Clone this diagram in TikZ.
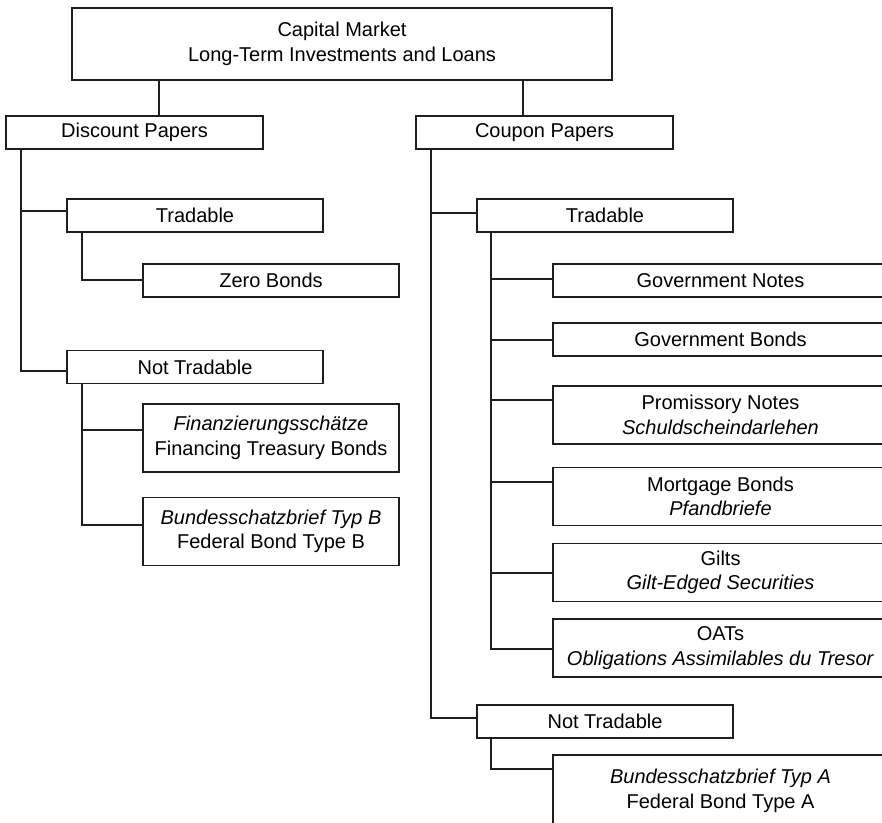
\documentclass[tikz,border=0pt]{standalone}
\usepackage{fontspec}
\setmainfont{Liberation Sans}
\usetikzlibrary{calc}
\definecolor{boxline}{RGB}{30,30,30}

\begin{document}
\begin{tikzpicture}[
  x=1pt, y=-1pt,
  font=\fontsize{20}{24.5}\selectfont,
  catbox/.style={draw=boxline, line width=1.8pt, fill=white,
                 inner sep=0pt, minimum width=256pt, minimum height=33pt,
                 align=center},
  widebox/.style={catbox, minimum width=335pt},
  link/.style={draw=boxline, line width=1.8pt},
]
\useasboundingbox (0,0) rectangle (882,822);
\clip (0,0) rectangle (882,822);

% =================================================================
%  ROOT AND FIRST LEVEL
% =================================================================
\node[catbox, minimum width=540pt, minimum height=72pt] (capital) at (342, 44)
  {Capital Market\\
   Long-Term Investments and Loans};

\node[catbox, minimum width=257pt] (disc) at (134.5, 132.5) {Discount Papers};
\node[catbox, minimum width=257pt] (coup) at (544.5, 132.5) {Coupon Papers};

% =================================================================
%  DISCOUNT PAPERS BRANCH
% =================================================================
\node[catbox] (ltrad) at (195, 215.5) {Tradable};
\node[catbox] (zero) at (271, 280.5) {Zero Bonds};

\node[catbox] (lnot) at (195, 367) {Not Tradable};
\node[catbox, minimum height=68pt] (finanz) at (271, 438)
  {\textit{Finanzierungsschätze}\\
   Financing Treasury Bonds};
\node[catbox, minimum height=68pt] (bsbB) at (271, 531.5)
  {\textit{Bundesschatzbrief Typ B}\\
   Federal Bond Type B};

% =================================================================
%  COUPON PAPERS BRANCH
% =================================================================
\node[catbox] (rtrad) at (605, 215.5) {Tradable};
\node[widebox] (gnotes) at (720.5, 280.5) {Government Notes};
\node[widebox] (gbonds) at (720.5, 339.5) {Government Bonds};
\node[widebox, minimum height=58pt] (pnotes) at (720.5, 415)
  {Promissory Notes\\
   \textit{Schuldscheindarlehen}};
\node[widebox, minimum height=58pt] (mbonds) at (720.5, 496.5)
  {Mortgage Bonds\\
   \textit{Pfandbriefe}};
\node[widebox, minimum height=58pt] (gilts) at (720.5, 572.5)
  {Gilts\\
   \textit{Gilt-Edged Securities}};
\node[widebox, minimum height=58pt] (oats) at (720.5, 648)
  {OATs\\
   \textit{Obligations Assimilables du Tresor}};

\node[catbox] (rnot) at (605, 721.5) {Not Tradable};
\node[widebox, minimum height=72pt] (bsbA) at (720.5, 791)
  {\textit{Bundesschatzbrief Typ A}\\
   Federal Bond Type A};

% =================================================================
%  CONNECTORS
% =================================================================
\coordinate (capL) at ($(capital.south)+(-183,0)$);
\coordinate (capR) at ($(capital.south)+(181,0)$);
\draw[link] (capL) -- (capL |- disc.north);
\draw[link] (capR) -- (capR |- coup.north);

\draw[link] ($(disc.south west)+(16,0)$) |- ($(ltrad.west)+(0,-4.5)$);
\draw[link] ($(disc.south west)+(16,0)$) |- ($(lnot.west)+(0,4)$);
\draw[link] ($(ltrad.south west)+(16,0)$) |- ($(zero.west)+(0,-0.5)$);
\draw[link] ($(lnot.south west)+(16,0)$) |- ($(finanz.north west)+(0,27)$);
\draw[link] ($(lnot.south west)+(16,0)$) |- ($(bsbB.north west)+(0,28)$);

\draw[link] ($(coup.south west)+(16,0)$) |- ($(rtrad.west)+(0,-2.5)$);
\draw[link] ($(coup.south west)+(16,0)$) |- ($(rnot.west)+(0,-3.5)$);
\draw[link] ($(rtrad.south west)+(15,0)$) |- ($(gnotes.west)+(0,-1.5)$);
\draw[link] ($(rtrad.south west)+(15,0)$) |- ($(gbonds.west)+(0,0.5)$);
\draw[link] ($(rtrad.south west)+(15,0)$) |- ($(pnotes.north west)+(0,15)$);
\draw[link] ($(rtrad.south west)+(15,0)$) |- ($(mbonds.north west)+(0,15)$);
\draw[link] ($(rtrad.south west)+(15,0)$) |- ($(gilts.west)+(0,0.5)$);
\draw[link] ($(rtrad.south west)+(15,0)$) |- ($(oats.west)+(0,1)$);
\draw[link] ($(rnot.south west)+(15,0)$) |- ($(bsbA.north west)+(0,15)$);

\end{tikzpicture}
\end{document}
